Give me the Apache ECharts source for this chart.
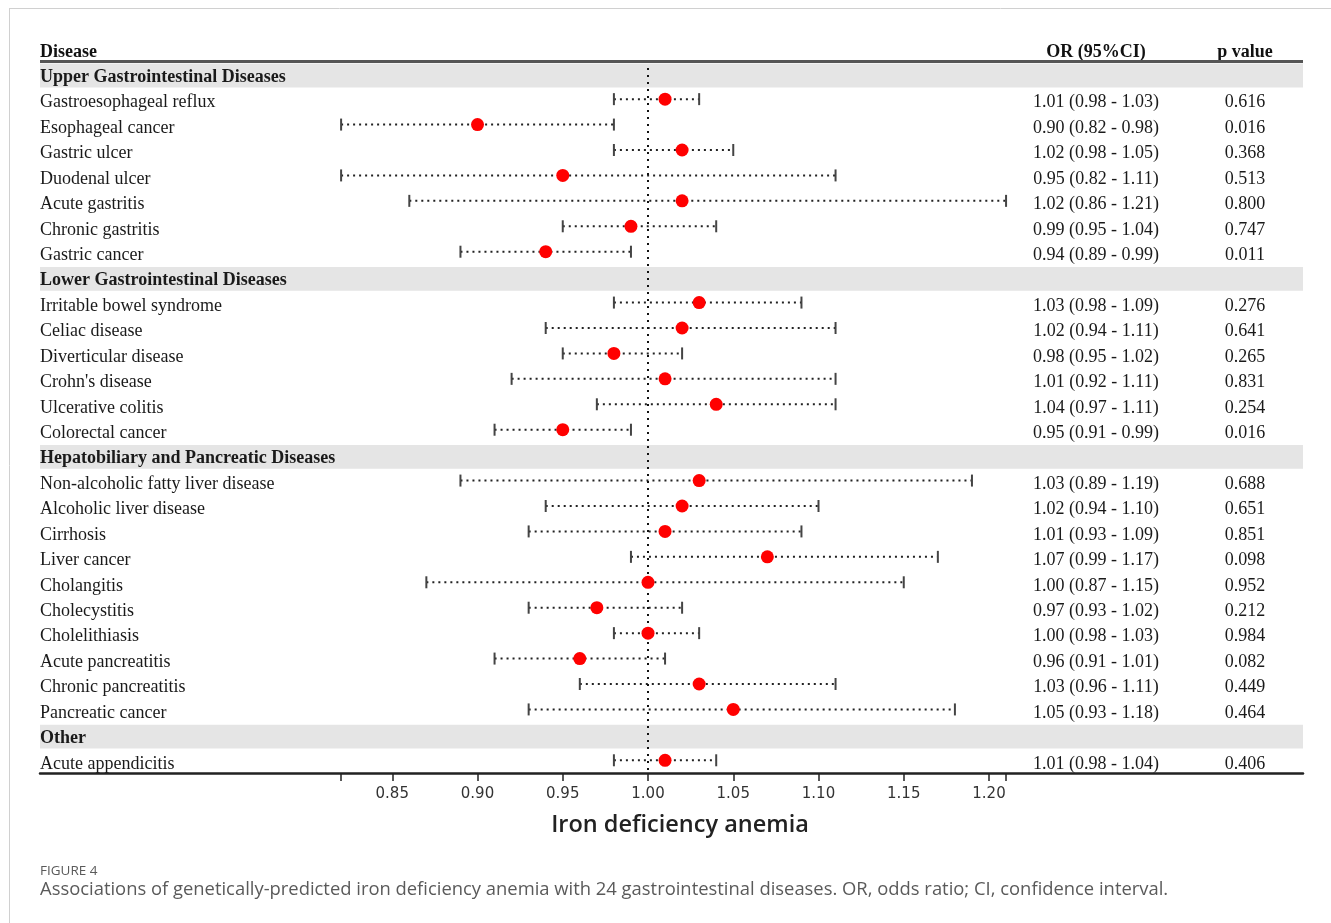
<!DOCTYPE html>
<html>
<head>
<meta charset="utf-8">
<script src="https://cdn.jsdelivr.net/npm/echarts@6/dist/echarts.min.js"></script>
<style>
html,body{margin:0;padding:0;background:#fff;}
#chart{width:1331px;height:923px;}
</style>
</head>
<body>
<div id="chart"></div>
<script>
// ---- data ----
const diseases = [
  'Upper Gastrointestinal Diseases',
  'Gastroesophageal reflux','Esophageal cancer','Gastric ulcer','Duodenal ulcer','Acute gastritis','Chronic gastritis','Gastric cancer',
  'Lower Gastrointestinal Diseases',
  'Irritable bowel syndrome','Celiac disease','Diverticular disease',"Crohn's disease",'Ulcerative colitis','Colorectal cancer',
  'Hepatobiliary and Pancreatic Diseases',
  'Non-alcoholic fatty liver disease','Alcoholic liver disease','Cirrhosis','Liver cancer','Cholangitis','Cholecystitis','Cholelithiasis','Acute pancreatitis','Chronic pancreatitis','Pancreatic cancer',
  'Other',
  'Acute appendicitis'
];
const orValues = [null,1.01,0.90,1.02,0.95,1.02,0.99,0.94, null,1.03,1.02,0.98,1.01,1.04,0.95, null,1.03,1.02,1.01,1.07,1.00,0.97,1.00,0.96,1.03,1.05, null,1.01];
const ciLow    = [null,0.98,0.82,0.98,0.82,0.86,0.95,0.89, null,0.98,0.94,0.95,0.92,0.97,0.91, null,0.89,0.94,0.93,0.99,0.87,0.93,0.98,0.91,0.96,0.93, null,0.98];
const ciHigh   = [null,1.03,0.98,1.05,1.11,1.21,1.04,0.99, null,1.09,1.11,1.02,1.11,1.11,0.99, null,1.19,1.10,1.09,1.17,1.15,1.02,1.03,1.01,1.11,1.18, null,1.04];
const pValues  = [null,'0.616','0.016','0.368','0.513','0.800','0.747','0.011', null,'0.276','0.641','0.265','0.831','0.254','0.016', null,'0.688','0.651','0.851','0.098','0.952','0.212','0.984','0.082','0.449','0.464', null,'0.406'];
const tickValues = [0.82,0.85,0.90,0.95,1.00,1.05,1.10,1.15,1.20,1.21];
const labelValues = [0.85,0.90,0.95,1.00,1.05,1.10,1.15,1.20];
const refValue = 1.00;
const xTitle = 'Iron deficiency anemia';
const colHeaders = ['Disease','OR (95%CI)','p value'];
const captionTitle = 'FIGURE 4';
const captionText = 'Associations of genetically-predicted iron deficiency anemia with 24 gastrointestinal diseases. OR, odds ratio; CI, confidence interval.';

// ---- derived ----
const headerRows = [], ciData = [], pointData = [], textData = [];
diseases.forEach((d, i) => {
  if (orValues[i] == null) { headerRows.push([i]); textData.push([i, 1]); }
  else {
    ciData.push([ciLow[i], ciHigh[i], i]);
    pointData.push([orValues[i], i]);
    textData.push([i, 0]);
  }
});
const fmt = v => v.toFixed(2);

const SERIF = '"Liberation Serif","Times New Roman",serif';
const FS = 18;
const chart = echarts.init(document.getElementById('chart'));
const GRID = {left: 40, right: 28, top: 61, bottom: 150};
const COL_OR = 1096, COL_P = 1245;

chart.setOption({
  animation: false,
  grid: {left: GRID.left, right: GRID.right, top: GRID.top, bottom: GRID.bottom, containLabel: false},
  xAxis: {
    type: 'value', min: 0.64340, max: 1.38416,
    axisLine: {show: true, lineStyle: {color: '#222', width: 2.5}},
    axisTick: {show: true, customValues: tickValues, length: 8, lineStyle: {color: '#222', width: 1.5}},
    axisLabel: {customValues: labelValues, formatter: v => fmt(v), fontFamily: '"DejaVu Sans",sans-serif', fontSize: 15, color: '#333', margin: 14},
    splitLine: {show: false},
    name: xTitle, nameLocation: 'middle', nameGap: 40,
    nameTextStyle: {fontFamily: '"Open Sans",sans-serif', fontWeight: 600, fontSize: 23.5, color: '#222', padding: [0, 0, 0, 17]}
  },
  yAxis: {
    type: 'category', data: diseases, inverse: true, show: false
  },
  series: [
    {
      type: 'custom', name: 'bands', z: 1, silent: true,
      data: headerRows, encode: {y: 0},
      renderItem: (params, api) => {
        const c = api.coord([0, api.value(0)]);
        const h = api.size([0, 1])[1];
        const cs = params.coordSys;
        return {type: 'rect', shape: {x: cs.x, y: c[1] - h / 2 + 2.5, width: cs.width, height: h - 1.5}, style: {fill: '#e5e5e5'}};
      }
    },
    {
      type: 'custom', name: 'ci', z: 3, silent: true,
      data: ciData, encode: {x: [0, 1], y: 2},
      renderItem: (params, api) => {
        const a = api.coord([api.value(0), api.value(2)]);
        const b = api.coord([api.value(1), api.value(2)]);
        return {type: 'group', children: [
          {type: 'line', shape: {x1: a[0], y1: a[1], x2: b[0], y2: b[1]}, style: {stroke: '#222', lineWidth: 2, lineDash: [2, 4]}},
          {type: 'line', shape: {x1: a[0], y1: a[1] - 6, x2: a[0], y2: a[1] + 6}, style: {stroke: '#444', lineWidth: 2}},
          {type: 'line', shape: {x1: b[0], y1: b[1] - 6, x2: b[0], y2: b[1] + 6}, style: {stroke: '#444', lineWidth: 2}}
        ]};
      }
    },
    {
      type: 'scatter', name: 'OR', z: 5, silent: true,
      data: pointData, symbol: 'circle', symbolSize: 13,
      itemStyle: {color: '#ff0000', opacity: 1},
      markLine: {
        silent: true, symbol: ['none', 'none'], label: {show: false},
        lineStyle: {color: '#111', type: [2, 5], width: 2},
        data: [{xAxis: refValue}]
      }
    },
    {
      type: 'custom', name: 'text', z: 6, silent: true,
      data: textData, encode: {y: 0},
      renderItem: (params, api) => {
        const i = api.value(0);
        const isHdr = api.value(1) === 1;
        const c = api.coord([1, i]);
        const y = c[1] + 3.5;
        const cs = params.coordSys;
        const children = [
          {type: 'text', x: cs.x, y: y, style: {text: diseases[i], fontFamily: SERIF, fontSize: FS, fontWeight: isHdr ? 'bold' : 'normal', fill: '#1a1a1a', align: 'left', verticalAlign: 'middle'}}
        ];
        if (!isHdr) {
          children.push({type: 'text', x: COL_OR, y: y, style: {text: fmt(orValues[i]) + ' (' + fmt(ciLow[i]) + ' - ' + fmt(ciHigh[i]) + ')', fontFamily: SERIF, fontSize: FS, fill: '#1a1a1a', align: 'center', verticalAlign: 'middle'}});
          children.push({type: 'text', x: COL_P, y: y, style: {text: pValues[i], fontFamily: SERIF, fontSize: FS, fill: '#1a1a1a', align: 'center', verticalAlign: 'middle'}});
        }
        return {type: 'group', children: children};
      }
    }
  ],
  graphic: [
    {type: 'line', shape: {x1: 9, y1: 8.5, x2: 1331, y2: 8.5}, style: {stroke: '#d0d0d0', lineWidth: 1}},
    {type: 'line', shape: {x1: 9.5, y1: 8, x2: 9.5, y2: 923}, style: {stroke: '#d0d0d0', lineWidth: 1}},
    {type: 'text', x: 40, y: 52, style: {text: colHeaders[0], fontFamily: SERIF, fontSize: FS, fontWeight: 'bold', fill: '#111', align: 'left', verticalAlign: 'middle'}},
    {type: 'text', x: COL_OR, y: 52, style: {text: colHeaders[1], fontFamily: SERIF, fontSize: FS, fontWeight: 'bold', fill: '#111', align: 'center', verticalAlign: 'middle'}},
    {type: 'text', x: COL_P, y: 52, style: {text: colHeaders[2], fontFamily: SERIF, fontSize: FS, fontWeight: 'bold', fill: '#111', align: 'center', verticalAlign: 'middle'}},
    {type: 'line', shape: {x1: 40, y1: 61.5, x2: 1303, y2: 61.5}, style: {stroke: '#555', lineWidth: 3}, z: 10},
    {type: 'text', x: 40, y: 871, style: {text: captionTitle, fontFamily: '"Open Sans",sans-serif', fontSize: 13.5, fill: '#5a5a5a', align: 'left', verticalAlign: 'middle'}},
    {type: 'text', x: 40, y: 890, style: {text: captionText, fontFamily: '"Open Sans",sans-serif', fontSize: 18.4, fill: '#5a5a5a', align: 'left', verticalAlign: 'middle'}}
  ]
});
</script>
</body>
</html>
